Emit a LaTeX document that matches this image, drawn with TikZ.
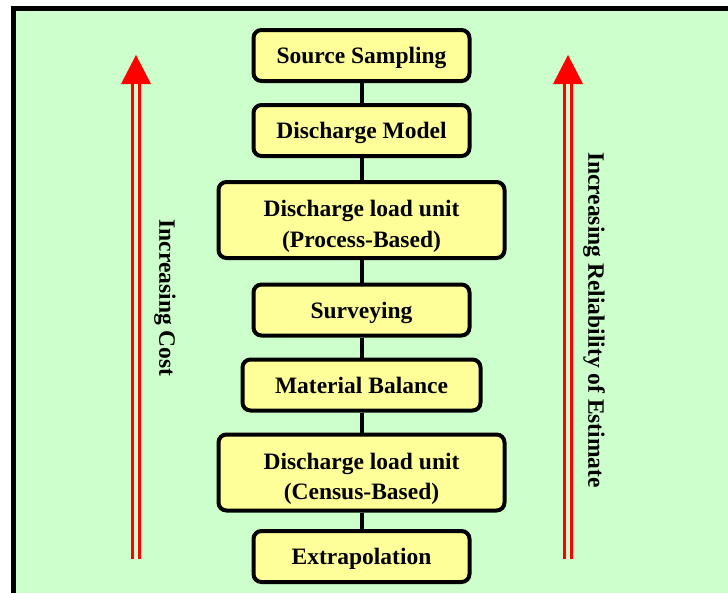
\documentclass[tikz,border=0pt]{standalone}
\usepackage{fontspec}
\setmainfont{Liberation Serif}
\definecolor{bggreen}{HTML}{CCFFCC}
\definecolor{boxyellow}{HTML}{FFFF99}
\tikzset{
	stufe/.style={draw=black, line width=4pt, rounded corners=8pt, fill=boxyellow,
		font=\fontsize{23.5}{30.5}\selectfont\bfseries, align=center, inner sep=0pt,
		minimum width=216pt, minimum height=51pt, text height=20pt, text depth=4pt},
	zweizeilig/.style={minimum width=286pt, minimum height=76pt, text height=55pt, text depth=1pt},
	verbindung/.style={line width=4pt},
	schaft/.style={red, line width=3pt, double=bggreen, double distance=4pt},
	seitentext/.style={rotate=-90, font=\fontsize{23.5}{28}\selectfont\bfseries}
}
\begin{document}
\begin{tikzpicture}[x=1pt,y=-1pt]
	\useasboundingbox (0,0) rectangle (728,592);
	\clip (0,0) rectangle (728,592);
	\draw[line width=5pt, fill=bggreen] (13.5,8.5) rectangle (760,620);%Rahmen
	\node[stufe] (sampling) at (361.5,55.5) {Source Sampling};
	\node[stufe] (model) at (361.5,130.5) {Discharge Model};
	\node[stufe, zweizeilig] (process) at (361.5,220) {Discharge load unit\\(Process-Based)};
	\node[stufe] (survey) at (361.5,310) {Surveying};
	\node[stufe, minimum width=238pt] (balance) at (361.5,385) {Material Balance};
	\node[stufe, zweizeilig] (census) at (361.5,472.5) {Discharge load unit\\(Census-Based)};
	\node[stufe] (extra) at (361.5,556.5) {Extrapolation};
	\draw[verbindung] (sampling) -- (model);
	\draw[verbindung] (model) -- (process);
	\draw[verbindung] (process) -- (survey);
	\draw[verbindung] (survey) -- (balance);
	\draw[verbindung] (balance) -- (census);
	\draw[verbindung] (census) -- (extra);
	\coordinate (costfoot) at (136,559);%Pfeil links
	\coordinate (costbase) at (136,84);
	\coordinate (costtip) at (136,55);
	\draw[schaft] (costfoot) -- (costbase);
	\fill[red] (costbase) ++(-15,0) -- ++(30,0) -- (costtip) -- cycle;
	\coordinate (relfoot) at (568,559);%Pfeil rechts
	\coordinate (relbase) at (568,84);
	\coordinate (reltip) at (568,55);
	\draw[schaft] (relfoot) -- (relbase);
	\fill[red] (relbase) ++(-15,0) -- ++(30,0) -- (reltip) -- cycle;
	\node[seitentext] (cost) at (165,298) {Increasing Cost};
	\node[seitentext] (reliab) at (594,320) {Increasing Reliability of Estimate};
\end{tikzpicture}
\end{document}
